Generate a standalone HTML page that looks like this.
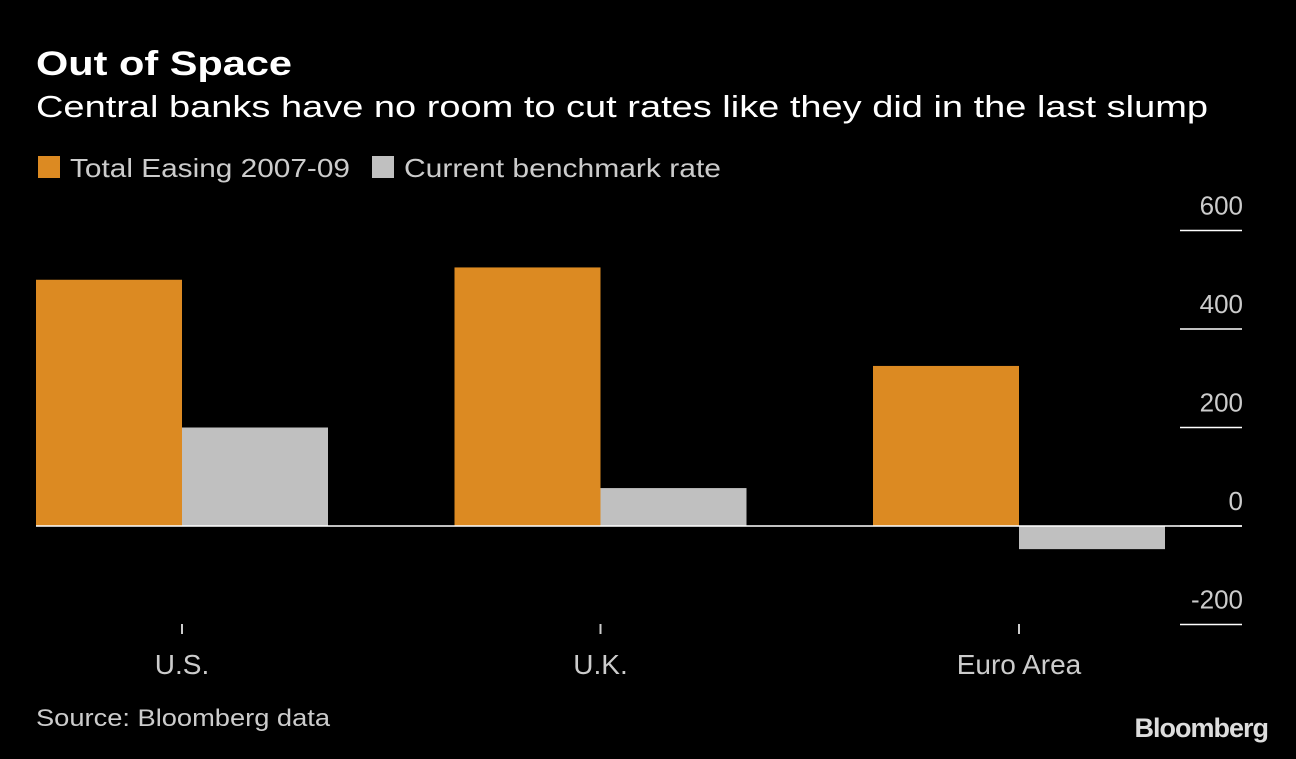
<!DOCTYPE html>
<html><head><meta charset="utf-8"><style>
body{margin:0;background:#000;width:1296px;height:754px;overflow:hidden;font-family:"Liberation Sans",sans-serif;color:#fff}
</style></head><body>
<svg width="1296" height="754">
<text x="36" y="75" font-size="34" font-weight="bold" fill="#fff" textLength="256" lengthAdjust="spacingAndGlyphs">Out of Space</text>
<text x="36" y="117" font-size="31" fill="#fff" textLength="1172" lengthAdjust="spacingAndGlyphs">Central banks have no room to cut rates like they did in the last slump</text>
<g>
<rect x="38" y="156" width="22" height="22" fill="#dc8a22"/>
<text x="70" y="177" font-size="26" fill="#ccc" textLength="280" lengthAdjust="spacingAndGlyphs">Total Easing 2007-09</text>
<rect x="372" y="156" width="22" height="22" fill="#c0c0c0"/>
<text x="404" y="177" font-size="26" fill="#ccc" textLength="317" lengthAdjust="spacingAndGlyphs">Current benchmark rate</text>
</g>
<g id="plot"></g>
<text x="36" y="726" font-size="24" fill="#ccc" textLength="294" lengthAdjust="spacingAndGlyphs">Source: Bloomberg data</text>
<text x="1268" y="737" font-size="27" font-weight="bold" fill="#ddd" text-anchor="end" letter-spacing="-1">Bloomberg</text>
</svg>
<script>
const categories=["U.S.","U.K.","Euro Area"];
const easing=[500,525,325];
const current=[200,77,-47];
const ticks=[600,400,200,0,-200];
const ns="http://www.w3.org/2000/svg";
const g=document.getElementById("plot");
const y=v=>526-v*0.4925;
const cx=i=>182+i*418.5;
function mk(t,a){const e=document.createElementNS(ns,t);for(const k in a)e.setAttribute(k,a[k]);g.appendChild(e);return e;}
ticks.forEach(t=>{
 const l=mk("line",{x1:1180,x2:1242,y1:y(t),y2:y(t),stroke:"#fff","stroke-width":1.5});
 
 
 const tx=mk("text",{x:1243,y:y(t)-16,"font-size":26,fill:"#ccc","text-anchor":"end"});
 tx.textContent=t;
 
 
});
categories.forEach((c,i)=>{
 const x=cx(i);
 const a=mk("rect",{x:x-146,width:146,y:Math.min(y(easing[i]),y(0)),height:Math.abs(y(easing[i])-y(0)),fill:"#dc8a22"});
 
 
 const b=mk("rect",{x:x,width:146,y:Math.min(y(current[i]),y(0)),height:Math.abs(y(current[i])-y(0)),fill:"#c0c0c0"});
 
 
 const tk=mk("line",{x1:x,x2:x,y1:624,y2:634,stroke:"#ccc","stroke-width":2});
 
 
 const lb=mk("text",{x:x,y:674,"font-size":28,fill:"#ccc","text-anchor":"middle"});
 lb.textContent=c;
 
 
});
const z=mk("line",{x1:36,x2:1242,y1:y(0),y2:y(0),stroke:"#fff","stroke-width":1.5});


</script>
</body></html>
